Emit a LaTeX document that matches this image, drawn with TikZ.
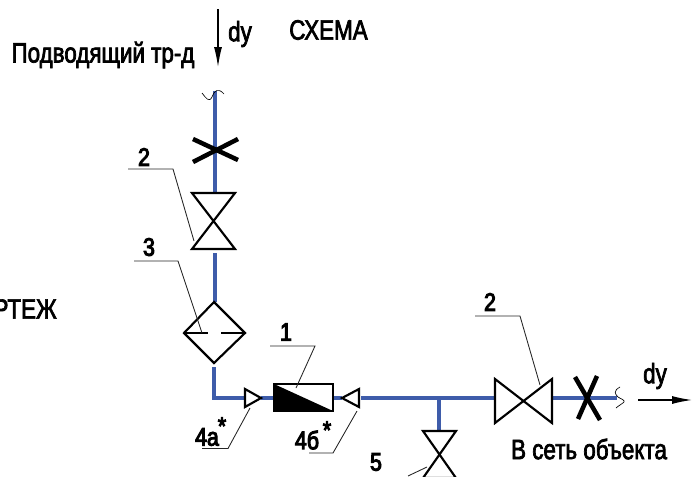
\documentclass[tikz,border=0pt]{standalone}
\usepackage{fontspec}
\setmainfont{Liberation Sans}[FakeStretch=0.80,FakeBold=2.5]
\newfontfamily\numfont{Liberation Sans}[FakeStretch=0.84,FakeBold=4]
\usetikzlibrary{arrows.meta}
\definecolor{pipeblue}{RGB}{62,92,170}
\tikzset{
  x=0.75pt,y=-0.75pt,
  pipe/.style={draw=pipeblue,line width=2.3pt},
  sym/.style={draw=black,line width=1.6pt,line join=miter},
  heavy/.style={draw=black,line width=3.4pt},
  leader/.style={draw=black!85,line width=0.65pt},
  thin sq/.style={draw=black,line width=0.5pt},
  flow/.style={draw=black,line width=0.9pt,-{Latex[length=15pt,width=6pt]}},
  txt/.style={font=\fontsize{21pt}{22pt}\selectfont,inner sep=0pt,text=black},
  num/.style={font=\numfont\fontsize{19pt}{20pt}\selectfont,inner sep=0pt,text=black},
  star/.style={font=\numfont\fontsize{19pt}{20pt}\selectfont,inner sep=0pt,text=black}
}
\begin{document}
\begin{tikzpicture}
\useasboundingbox (0,0) rectangle (692,476);
\clip (0,0) rectangle (692,476);
% texts
\node[txt] (schema) at (328.5,30) {СХЕМА};
\node[txt] (feed) at (103,55) {Подводящий тр-д};
\node[txt] (dy1) at (240,34) {dy};
\node[txt,anchor=east] (draft) at (57,309) {РТЕЖ};
\node[txt] (dy2) at (655,376) {dy};
\node[txt] (net) at (589,449) {В сеть объекта};
\node[num] (n2a) at (144,157) {2};
\node[num] (n3) at (149,247) {3};
\node[num] (n1) at (286,332) {1};
\node[num] (n4a) at (207,437) {4а};
\node[star] (s4a) at (222,426) {*};
\node[num] (n4b) at (307,440) {4б};
\node[star] (s4b) at (327,430) {*};
\node[num] (n5) at (376,462) {5};
\node[num] (n2b) at (490,302) {2};
% anchors
\coordinate (ptop) at (215,91);
\coordinate (v1t) at (215,193);
\coordinate (v1b) at (215,253);
\coordinate (dt) at (215,302);
\coordinate (db) at (214,367);
\coordinate (elbow) at (214,398);
\coordinate (t4a) at (245,398);
\coordinate (t4atip) at (261,398);
\coordinate (boxl) at (273,398);
\coordinate (boxr) at (333,398);
\coordinate (t4btip) at (342,398);
\coordinate (t4b) at (361,398);
\coordinate (tee) at (439,398);
\coordinate (v3t) at (439,431);
\coordinate (v2l) at (495,398);
\coordinate (v2r) at (552,398);
\coordinate (pend) at (617,398);
% pipes
\draw[pipe] (ptop) -- (v1t);
\draw[pipe] (v1b) -- (dt);
\draw[pipe] (db) -- (elbow) -- (t4a);
\draw[pipe] (t4atip) -- (boxl);
\draw[pipe] (boxr) -- (t4btip);
\draw[pipe] (t4b) -- (tee) -- (v2l);
\draw[pipe] (tee) -- (v3t);
\draw[pipe] (v2r) -- (pend);
% flow arrows
\coordinate (a1s) at (218,9);
\coordinate (a1e) at (218,67);
\coordinate (a2s) at (638,400);
\coordinate (a2e) at (692,400);
\draw[flow] (a1s) -- (a1e);
\draw[flow] (a2s) -- (a2e);
% break squiggles
\draw[thin sq] (202,93) .. controls (206,98) and (209,103) .. (212,97) .. controls (214,91) and (218,87) .. (224,94);
\draw[thin sq] (620,387) .. controls (613,391) and (615,394) .. (618,397) .. controls (621,399) and (625,400) .. (624,402) .. controls (622,404) and (618,406) .. (616,408);
% crosses
\draw[heavy] (193,162) -- (238,139);
\draw[heavy] (193,139) -- (238,160);
\draw[heavy] (575,377) -- (600,420);
\draw[heavy] (597,376) -- (578,419);
% valves
\draw[sym] (192,193) -- (235,193) -- (192,249) -- (235,249) -- cycle;
\draw[sym] (495,379) -- (495,423) -- (552,379) -- (552,423) -- cycle;
\draw[sym] (423,431) -- (456,431) -- (423,478) -- (456,478) -- cycle;
% filter
\draw[sym] (214,302) -- (245,333) -- (214,363) -- (184,333) -- cycle;
\draw[sym] (184,333) -- (208,333);
\draw[sym] (221,333) -- (245,333);
% sensors
\draw[sym,fill=white] (245,389) -- (261,398) -- (245,407) -- cycle;
\draw[sym,fill=white] (359,389) -- (342,398) -- (359,407) -- cycle;
% device
\draw[sym,fill=white] (274,384) rectangle (333,411);
\fill[black] (274,384) -- (333,411) -- (274,411) -- cycle;
% leaders
\draw[leader] (128,169) -- (173,169) -- (194,241);
\draw[leader] (134,261) -- (178,261) -- (202,333);
\draw[leader] (270,346) -- (315,346) -- (296,388);
\draw[leader] (202,448.5) -- (228,448.5) -- (250,408);
\draw[leader] (309,453) -- (333,453) -- (357,411);
\draw[leader] (408,476) -- (427,467);
\draw[leader] (475,316) -- (520,316) -- (540,385);
\end{tikzpicture}
\end{document}
